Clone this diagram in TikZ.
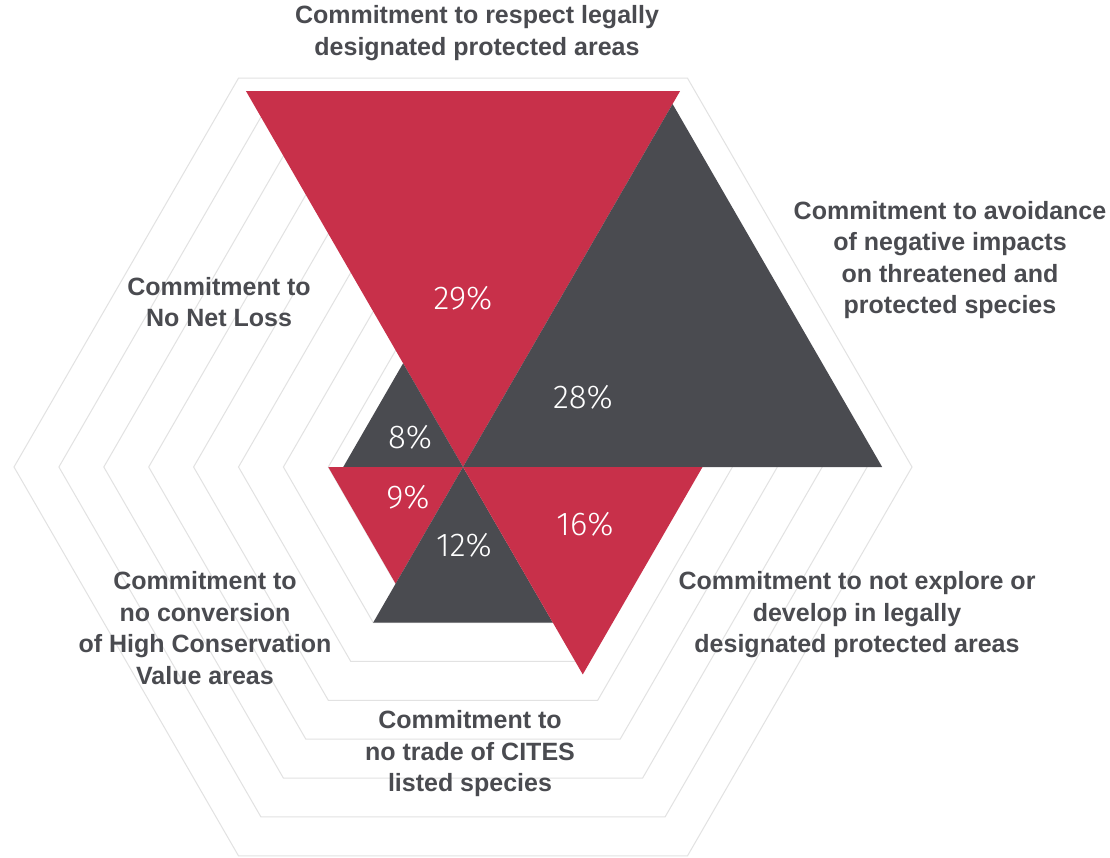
\documentclass[tikz,border=0pt]{standalone}
\usepackage{fontspec}
\setmainfont{Liberation Sans}
\newfontfamily\pctfont{Fira Sans Light}
\usetikzlibrary{calc}
\definecolor{cred}{HTML}{C8304A}
\definecolor{cdark}{HTML}{4A4B50}
\definecolor{cgrid}{HTML}{E2E2E2}
\definecolor{ctext}{HTML}{4A4B50}
\newcommand\mysector[4]{\fill[#1] (c) -- ($(c)+(#2:#4*14.97pt)$) -- ($(c)+(#3:#4*14.97pt)$) -- cycle;}
\begin{document}
\begin{tikzpicture}[x=1pt,y=-1pt,
  lab/.style={font=\bfseries\fontsize{25}{31.5}\selectfont, text=ctext, align=center},
  pct/.style={font=\pctfont\fontsize{33}{33}\selectfont, text=white}]
\useasboundingbox (0,0) rectangle (1110,858);
\fill[white] (0,0) rectangle (1110,858);
\coordinate (c) at (463,467);
\foreach \k in {1,...,10}{
  \draw[cgrid, line width=1pt] ($(c)+(0:\k*44.9pt)$)
    -- ($(c)+(60:\k*44.9pt)$) -- ($(c)+(120:\k*44.9pt)$)
    -- ($(c)+(180:\k*44.9pt)$) -- ($(c)+(240:\k*44.9pt)$)
    -- ($(c)+(300:\k*44.9pt)$) -- cycle;
}
\mysector{cred}{60}{120}{29}
\mysector{cdark}{0}{60}{28}
\mysector{cdark}{120}{180}{8}
\mysector{cred}{180}{240}{9}
\mysector{cdark}{240}{300}{12}
\mysector{cred}{300}{360}{16}
\node[pct] (p29) at (463,298) {29\%};
\node[pct] (p28) at (583,397) {28\%};
\node[pct] (p8) at (410,437) {8\%};
\node[pct] (p9) at (408,497) {9\%};
\node[pct] (p12) at (464,545) {12\%};
\node[pct] (p16) at (585,524) {16\%};
\node[lab] (ltop) at (477,33) {Commitment to respect legally\\designated protected areas};
\node[lab] (lright) at (950,260) {Commitment to avoidance\\of negative impacts\\on threatened and\\protected species};
\node[lab] (lleft) at (219,302) {Commitment to\\No Net Loss};
\node[lab] (llowleft) at (205,628) {Commitment to\\no conversion\\of High Conservation\\Value areas};
\node[lab] (llowright) at (857,615) {Commitment to not explore or\\develop in legally\\designated protected areas};
\node[lab] (lbottom) at (470,754) {Commitment to\\no trade of CITES\\listed species};
\end{tikzpicture}
\end{document}
